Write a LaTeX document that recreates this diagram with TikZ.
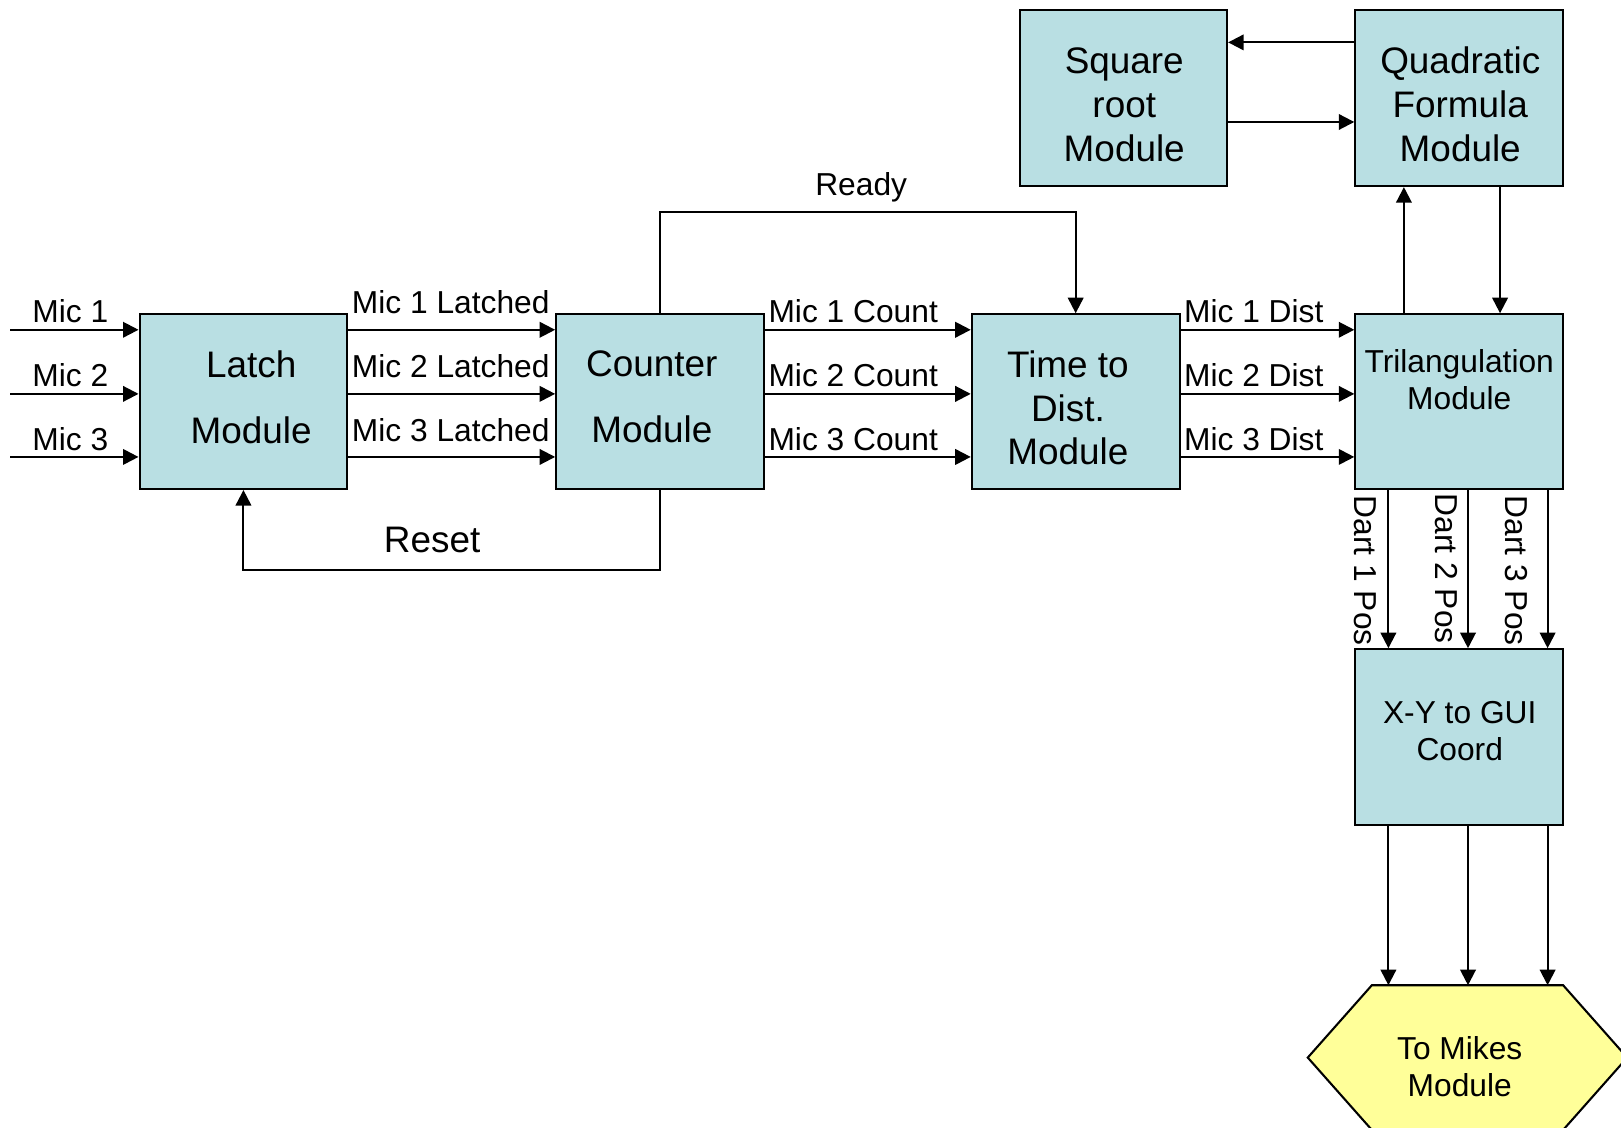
\documentclass[tikz,border=0pt]{standalone}
\usepackage{fontspec}
\setmainfont{Liberation Sans}
\usetikzlibrary{arrows.meta}
\definecolor{boxblue}{RGB}{185,223,227}
\definecolor{hexyellow}{RGB}{255,255,153}
\begin{document}
\begin{tikzpicture}[x=0.5pt,y=-0.5pt,
  box/.style={draw,line width=1pt,fill=boxblue,minimum width=100.5pt,minimum height=84.5pt,inner sep=0pt},
  big/.style={align=center,font=\fontsize{17.85}{21.25}\selectfont,inner sep=0pt},
  bigwide/.style={align=center,font=\fontsize{17.85}{32}\selectfont,inner sep=0pt},
  small/.style={align=center,font=\fontsize{15.35}{18}\selectfont,inner sep=0pt},
  lab/.style={font=\fontsize{15.35}{18}\selectfont,inner sep=0pt},
  biglab/.style={font=\fontsize{17.85}{21.25}\selectfont,inner sep=0pt},
  conn/.style={line width=1pt,-{Triangle[length=7.5pt,width=7.5pt]}}
]
\path[use as bounding box] (0,0) rectangle (1568,1091);
\clip (0,0) rectangle (1568,1091);

% boxes
\node[box] (latch) at (235.5,388.5) {};
\node[box] (counter) at (638.5,388.5) {};
\node[box] (time) at (1040.5,388.5) {};
\node[box] (tri) at (1411.5,388.5) {};
\node[box,minimum width=100pt,minimum height=85pt] (sqrt) at (1087,95) {};
\node[box,minimum height=85pt] (quad) at (1411.5,95) {};
\node[box,minimum height=85pt] (xy) at (1411.5,713) {};

% hexagon
\draw[line width=1pt,fill=hexyellow] (1327,953) coordinate (hexTL) -- (1512,953) coordinate (hexTR)
  -- (1574,1023) -- (1512,1093) -- (1327,1093) -- (1265,1023) -- cycle;

% box texts
\node[bigwide] (latchT) at (243,384) {Latch\\Module};
\node[bigwide] (counterT) at (630.5,384) {Counter\\Module};
\node[big] (timeT) at (1033,394.5) {Time to\\Dist.\\Module};
\node[big] (sqrtT) at (1087.5,101) {Square\\root\\Module};
\node[big] (quadT) at (1412.5,101) {Quadratic\\Formula\\Module};
\node[small] (triT) at (1411.5,367) {Trilangulation\\Module};
\node[small] (xyT) at (1412,707) {X-Y to GUI\\Coord};
\node[small] (hexT) at (1412,1032) {To Mikes\\Module};

% signal levels
\coordinate (m1) at (10,319);
\coordinate (m2) at (10,381);
\coordinate (m3) at (10,442);

% mic inputs
\draw[conn] (m1) -- (m1 -| latch.west);
\draw[conn] (m2) -- (m2 -| latch.west);
\draw[conn] (m3) -- (m3 -| latch.west);
\node[lab,anchor=base west] (mic1) at (31,312) {Mic 1};
\node[lab,anchor=base west] (mic2) at (31,374) {Mic 2};
\node[lab,anchor=base west] (mic3) at (31,436) {Mic 3};

% latched
\draw[conn] (latch.east |- m1) -- (counter.west |- m1);
\draw[conn] (latch.east |- m2) -- (counter.west |- m2);
\draw[conn] (latch.east |- m3) -- (counter.west |- m3);
\node[lab,anchor=base] (lat1) at (436,303) {Mic 1 Latched};
\node[lab,anchor=base] (lat2) at (436,365) {Mic 2 Latched};
\node[lab,anchor=base] (lat3) at (436,427) {Mic 3 Latched};

% counts
\draw[conn] (counter.east |- m1) -- (time.west |- m1);
\draw[conn] (counter.east |- m2) -- (time.west |- m2);
\draw[conn] (counter.east |- m3) -- (time.west |- m3);
\node[lab,anchor=base west] (cnt1) at (743,312) {Mic 1 Count};
\node[lab,anchor=base west] (cnt2) at (743,374) {Mic 2 Count};
\node[lab,anchor=base west] (cnt3) at (743,436) {Mic 3 Count};

% distances
\draw[conn] (time.east |- m1) -- (tri.west |- m1);
\draw[conn] (time.east |- m2) -- (tri.west |- m2);
\draw[conn] (time.east |- m3) -- (tri.west |- m3);
\node[lab,anchor=base west] (dst1) at (1145,312) {Mic 1 Dist};
\node[lab,anchor=base west] (dst2) at (1145,374) {Mic 2 Dist};
\node[lab,anchor=base west] (dst3) at (1145,436) {Mic 3 Dist};

% ready and reset
\draw[conn] (counter.north) -- (counter.north |- 0,205) -| (time.north);
\node[lab,anchor=base] (ready) at (833,189) {Ready};
\draw[conn] (counter.south) -- (counter.south |- 0,551) -| (latch.south);
\node[biglab,anchor=base] (reset) at (418,534) {Reset};

% trilangulation <-> quadratic
\draw[conn] (tri.north -| 1358,0) -- (quad.south -| 1358,0);
\draw[conn] (quad.south -| 1451,0) -- (tri.north -| 1451,0);

% quadratic <-> square root
\draw[conn] (quad.west |- 0,41) -- (sqrt.east |- 0,41);
\draw[conn] (sqrt.east |- 0,118) -- (quad.west |- 0,118);

% trilangulation -> xy
\draw[conn] (tri.south -| 1343,0) -- (xy.north -| 1343,0);
\draw[conn] (tri.south -| 1420,0) -- (xy.north -| 1420,0);
\draw[conn] (tri.south -| 1497,0) -- (xy.north -| 1497,0);
\node[lab,rotate=-90] (dart1) at (1321,552) {Dart 1 Pos};
\node[lab,rotate=-90] (dart2) at (1399,550) {Dart 2 Pos};
\node[lab,rotate=-90] (dart3) at (1467,552) {Dart 3 Pos};

% xy -> hexagon
\draw[conn] (xy.south -| 1343,0) -- (hexTL -| 1343,0);
\draw[conn] (xy.south -| 1420,0) -- (hexTL -| 1420,0);
\draw[conn] (xy.south -| 1497,0) -- (hexTL -| 1497,0);
\end{tikzpicture}
\end{document}
